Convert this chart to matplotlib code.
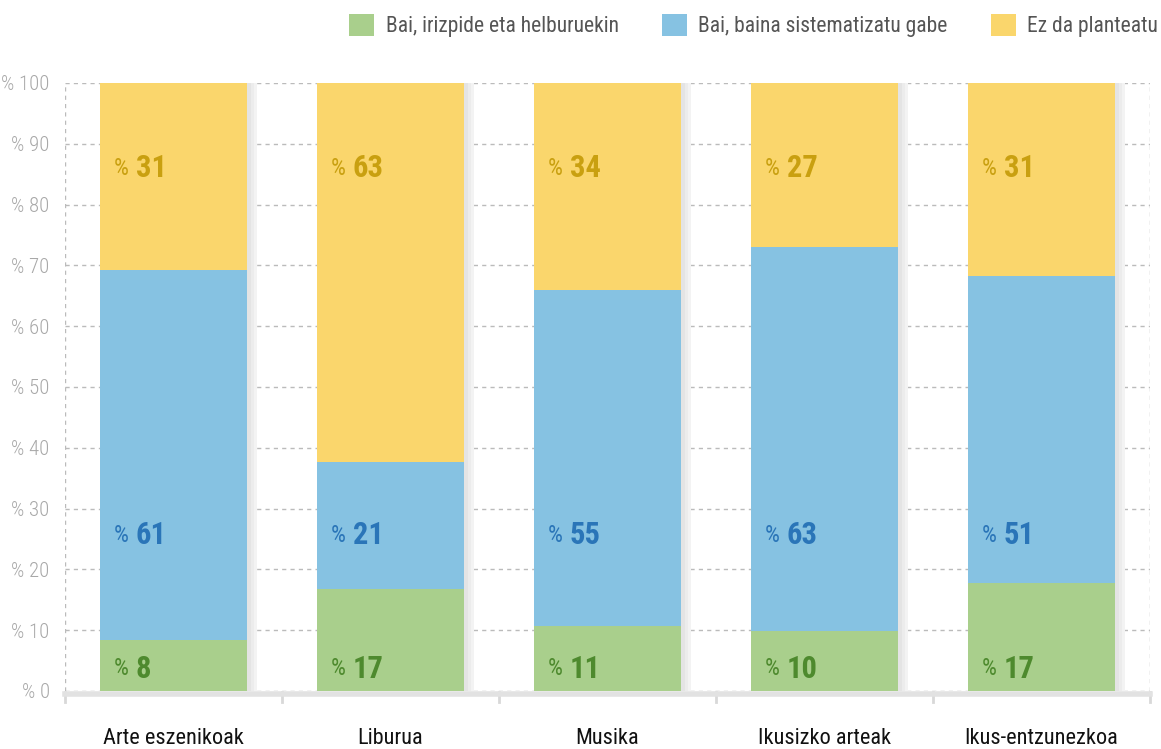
import matplotlib
matplotlib.use("Agg")
import matplotlib.pyplot as plt
from matplotlib.transforms import offset_copy
from matplotlib.patches import Patch
import numpy as np

plt.rcParams['font.family'] = ['Roboto Condensed', 'Liberation Sans Narrow', 'Roboto', 'DejaVu Sans']

categories = ["Arte eszenikoak", "Liburua", "Musika", "Ikusizko arteak", "Ikus-entzunezkoa"]
series_names = ["Bai, irizpide eta helburuekin", "Bai, baina sistematizatu gabe", "Ez da planteatu"]
green_vals = [8.4, 16.8, 10.7, 9.9, 17.8]
blue_vals = [60.8, 20.9, 55.3, 63.1, 50.5]
yellow_vals = [30.8, 62.3, 34.0, 27.0, 31.7]
green_labels = ["8", "17", "11", "10", "17"]
blue_labels = ["61", "21", "55", "63", "51"]
yellow_labels = ["31", "63", "34", "27", "31"]
y_ticks = [0, 10, 20, 30, 40, 50, 60, 70, 80, 90, 100]

colors = ["#A9CF8C", "#86C2E2", "#FAD66C"]
text_colors = ["#4E8A2E", "#2A75B8", "#C9A010"]

fig = plt.figure(figsize=(11.61, 7.49), dpi=100)
ax = fig.add_axes([65/1161, 58/749, (1150-65)/1161, (691-83)/749])

for s in ["top", "right", "left"]:
    ax.spines[s].set_visible(False)
ax.spines["bottom"].set_color("#e2e2e2")
ax.spines["bottom"].set_linewidth(4)
ax.spines["bottom"].set_position(("outward", 2))

x = np.arange(len(categories))
width = 0.68

# shadows
tot = np.array(green_vals) + np.array(blue_vals) + np.array(yellow_vals)
for dx, c in [(0.045, "#f3f3f3"), (0.03, "#ececec"), (0.015, "#e4e4e4")]:
    ax.bar(x + dx, tot, width, color=c, zorder=1, linewidth=0)

b0 = np.zeros(len(categories))
for vals, col in zip([green_vals, blue_vals, yellow_vals], colors):
    ax.bar(x, vals, width, bottom=b0, color=col, zorder=2, linewidth=0)
    b0 = b0 + np.array(vals)

ax.set_xlim(-0.5, 4.5)
ax.set_ylim(0, 100)
ax.set_yticks(y_ticks)
ax.set_yticklabels([f"% {t}" for t in y_ticks], color="#a8a8a8", fontsize=15, fontweight="light")
ax.set_xticks(x)
ax.set_xticklabels(categories, fontsize=16, color="#111111")
ax.tick_params(axis="x", length=0, pad=25)
ax.tick_params(axis="y", length=0, pad=11)
ax.yaxis.grid(True, linestyle=(0, (3, 3)), color="#bbbbbb", linewidth=1, zorder=0)
ax.set_axisbelow(True)
for xv in [-0.5, 4.5]:
    ax.axvline(xv, linestyle=(0, (3, 3)), color="#bbbbbb", linewidth=1, zorder=0)
for xv in [-0.5, 0.5, 1.5, 2.5, 3.5, 4.5]:
    ax.plot([xv, xv], [-0.2, -1.8], color="#d8d8d8", linewidth=2, clip_on=False, zorder=0)

label_y = [3.7, 25.6, 86.0]
for labels, ly, tc in zip([green_labels, blue_labels, yellow_labels], label_y, text_colors):
    for i, lab in enumerate(labels):
        left = x[i] - width / 2
        t1 = offset_copy(ax.transData, fig=fig, x=14*0.72, y=0, units="points")
        ax.text(left, ly, "%", transform=t1, fontsize=17, color=tc, va="center", ha="left", zorder=5)
        t2 = offset_copy(ax.transData, fig=fig, x=36*0.72, y=0, units="points")
        ax.text(left, ly, lab, transform=t2, fontsize=22, fontweight="bold", color=tc,
                va="center", ha="left", zorder=5)

handles = [Patch(facecolor=c, edgecolor="none") for c in colors]
leg = fig.legend(handles, series_names, loc="upper right", bbox_to_anchor=(1.006, 0.994), ncol=3,
                 frameon=False, fontsize=15.5, handlelength=1.15, handleheight=1.15,
                 columnspacing=2.0, handletextpad=0.55, borderaxespad=0.05)
for t in leg.get_texts():
    t.set_color("#555555")

fig.savefig("out.png", dpi=100)
